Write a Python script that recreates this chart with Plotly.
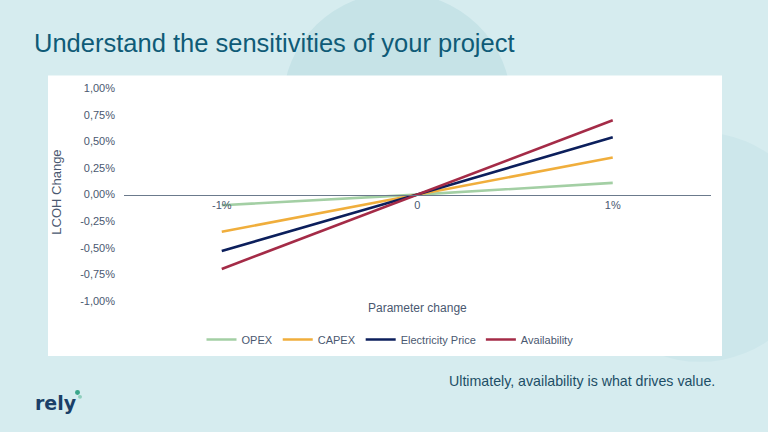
import plotly.graph_objects as go

W, H = 768, 432

categories = ["-1%", "0", "1%"]
series_names = ["OPEX", "CAPEX", "Electricity Price", "Availability"]
opex = [-0.10, 0.0, 0.11]
capex = [-0.35, 0.0, 0.35]
electricity = [-0.53, 0.0, 0.54]
availability = [-0.70, 0.0, 0.70]
series_values = [opex, capex, electricity, availability]
colors = ["#a3cfa4", "#f0ae3c", "#0c1f5c", "#a42b47"]

y_tickvals = [1.0, 0.75, 0.5, 0.25, 0.0, -0.25, -0.5, -0.75, -1.0]
y_ticktext = ["1,00%", "0,75%", "0,50%", "0,25%", "0,00%", "-0,25%", "-0,50%", "-0,75%", "-1,00%"]

def px(x):
    return x / W

def py(y):
    return 1 - y / H

fig = go.Figure()
for name, vals, col in zip(series_names, series_values, colors):
    fig.add_trace(go.Scatter(x=categories, y=vals, mode="lines", name=name,
                             line=dict(color=col, width=2.6)))

label_col = "#4a5870"
y_top, y_bot = 84.7, 303.3
zero_y = (y_top + y_bot) / 2

fig.update_layout(
    width=W, height=H,
    margin=dict(l=0, r=0, t=0, b=0),
    paper_bgcolor="#d6ecef",
    plot_bgcolor="rgba(0,0,0,0)",
    font=dict(family="Liberation Sans, Arial, sans-serif", color=label_col, size=11),
    showlegend=True,
    legend=dict(orientation="h", x=px(390), xanchor="center", y=py(343), yanchor="middle",
                font=dict(size=11, color=label_col), bgcolor="rgba(0,0,0,0)",
                itemwidth=30, tracegroupgap=0),
    xaxis=dict(domain=[px(124), px(710.5)], type="category", range=[-0.5, 2.5],
               anchor="free", position=py(zero_y), showline=True, linecolor="#6b7a8c",
               linewidth=1.2, showgrid=False, zeroline=False, ticks="",
               tickfont=dict(size=11, color=label_col), fixedrange=True),
    yaxis=dict(domain=[py(y_bot), py(y_top)], range=[-1.0, 1.0], tickvals=y_tickvals,
               ticktext=y_ticktext, showgrid=False, zeroline=False, showline=False,
               ticks="", ticklabelstandoff=8, tickfont=dict(size=11, color=label_col)),
    shapes=[
        dict(type="circle", xref="paper", yref="paper", layer="below",
             x0=px(397 - 114), x1=px(397 + 114), y0=py(100 + 114), y1=py(100 - 114),
             fillcolor="#c6e3e7", line=dict(width=0)),
        dict(type="circle", xref="paper", yref="paper", layer="below",
             x0=px(700 - 118), x1=px(700 + 118), y0=py(248 + 118), y1=py(248 - 118),
             fillcolor="#cde7eb", line=dict(width=0)),
        dict(type="rect", xref="paper", yref="paper", layer="below",
             x0=px(48), x1=px(722), y0=py(360), y1=py(71.5),
             fillcolor="white", line=dict(width=0)),
        dict(type="circle", xref="paper", yref="paper", layer="above",
             x0=px(75), x1=px(80), y0=py(400), y1=py(395),
             fillcolor="#3aa58a", line=dict(width=0)),
        dict(type="circle", xref="paper", yref="paper", layer="above",
             x0=px(78), x1=px(82), y0=py(404), y1=py(400),
             fillcolor="#8fcfbd", line=dict(width=0)),
    ],
    annotations=[
        dict(text="Understand the sensitivities of your project", xref="paper", yref="paper",
             x=px(32), y=py(38), xanchor="left", yanchor="middle", showarrow=False,
             font=dict(family="Liberation Sans Narrow, Arial Narrow, Liberation Sans, sans-serif",
                       size=25.5, color="#0f5b77")),
        dict(text="LCOH Change", xref="paper", yref="paper", x=px(57), y=py(192),
             textangle=-90, showarrow=False, xanchor="center", yanchor="middle",
             font=dict(size=13, color=label_col)),
        dict(text="Parameter change", xref="paper", yref="paper", x=px(417), y=py(311),
             showarrow=False, xanchor="center", yanchor="middle",
             font=dict(size=12, color=label_col)),
        dict(text="Ultimately, availability is what drives value.", xref="paper", yref="paper",
             x=px(717), y=py(386), showarrow=False, xanchor="right", yanchor="middle",
             font=dict(size=14.2, color="#1d4e66")),
        dict(text="<b>rely</b>", xref="paper", yref="paper", x=px(33), y=py(408),
             showarrow=False, xanchor="left", yanchor="middle",
             font=dict(family="DejaVu Sans, sans-serif", size=19, color="#1b3f68")),
    ],
)

fig.write_html("out.html")
